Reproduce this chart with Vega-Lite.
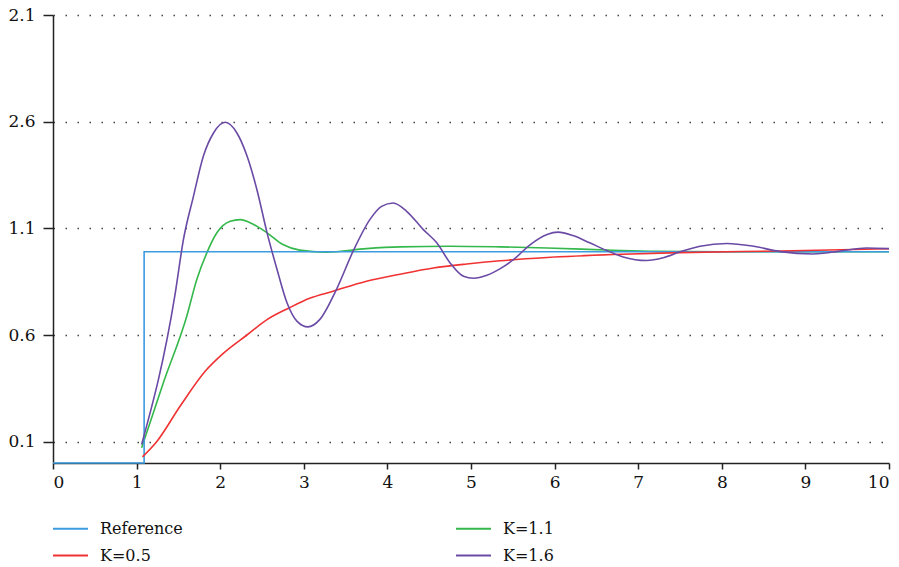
{
  "$schema": "https://vega.github.io/schema/vega-lite/v6.json",
  "autosize": {"type": "none"},
  "padding": {"left": 53, "top": 15, "right": 10, "bottom": 104},
  "width": 836,
  "height": 448,
  "background": "white",
  "config": {
    "view": {"stroke": null},
    "font": "DejaVu Serif",
    "axis": {"labelFont": "DejaVu Serif", "labelFontSize": 17, "labelColor": "#111", "domainColor": "#222", "domainWidth": 1.5, "tickColor": "#222", "tickWidth": 1.5, "title": null}
  },
  "data": {
    "values": [
      {"series": "Reference", "t": 0, "v": 0},
      {"series": "Reference", "t": 1.09, "v": 0},
      {"series": "Reference", "t": 1.09, "v": 0.99},
      {"series": "Reference", "t": 10, "v": 0.99},

      {"series": "K=0.5", "t": 1.07, "v": 0.029},
      {"series": "K=0.5", "t": 1.24, "v": 0.10},
      {"series": "K=0.5", "t": 1.52, "v": 0.266},
      {"series": "K=0.5", "t": 1.82, "v": 0.43},
      {"series": "K=0.5", "t": 2.04, "v": 0.515},
      {"series": "K=0.5", "t": 2.32, "v": 0.60},
      {"series": "K=0.5", "t": 2.56, "v": 0.672},
      {"series": "K=0.5", "t": 2.83, "v": 0.728},
      {"series": "K=0.5", "t": 3.07, "v": 0.772},
      {"series": "K=0.5", "t": 3.35, "v": 0.805},
      {"series": "K=0.5", "t": 3.75, "v": 0.852},
      {"series": "K=0.5", "t": 4.15, "v": 0.885},
      {"series": "K=0.5", "t": 4.55, "v": 0.914},
      {"series": "K=0.5", "t": 4.95, "v": 0.933},
      {"series": "K=0.5", "t": 5.35, "v": 0.948},
      {"series": "K=0.5", "t": 5.91, "v": 0.963},
      {"series": "K=0.5", "t": 6.70, "v": 0.977},
      {"series": "K=0.5", "t": 7.50, "v": 0.986},
      {"series": "K=0.5", "t": 8.70, "v": 0.994},
      {"series": "K=0.5", "t": 10.0, "v": 1.004},

      {"series": "K=1.1", "t": 1.06, "v": 0.071},
      {"series": "K=1.1", "t": 1.32, "v": 0.376},
      {"series": "K=1.1", "t": 1.60, "v": 0.688},
      {"series": "K=1.1", "t": 1.72, "v": 0.86},
      {"series": "K=1.1", "t": 1.84, "v": 0.985},
      {"series": "K=1.1", "t": 1.96, "v": 1.079},
      {"series": "K=1.1", "t": 2.12, "v": 1.133},
      {"series": "K=1.1", "t": 2.24, "v": 1.141},
      {"series": "K=1.1", "t": 2.40, "v": 1.118},
      {"series": "K=1.1", "t": 2.56, "v": 1.079},
      {"series": "K=1.1", "t": 2.75, "v": 1.024},
      {"series": "K=1.1", "t": 2.95, "v": 0.998},
      {"series": "K=1.1", "t": 3.27, "v": 0.988},
      {"series": "K=1.1", "t": 3.75, "v": 1.005},
      {"series": "K=1.1", "t": 4.15, "v": 1.013},
      {"series": "K=1.1", "t": 4.75, "v": 1.016},
      {"series": "K=1.1", "t": 5.35, "v": 1.013},
      {"series": "K=1.1", "t": 5.91, "v": 1.008},
      {"series": "K=1.1", "t": 6.70, "v": 0.997},
      {"series": "K=1.1", "t": 7.20, "v": 0.992},
      {"series": "K=1.1", "t": 8.00, "v": 0.99},
      {"series": "K=1.1", "t": 10.0, "v": 0.99},

      {"series": "K=1.6", "t": 1.06, "v": 0.087},
      {"series": "K=1.6", "t": 1.46, "v": 0.79},
      {"series": "K=1.6", "t": 1.56, "v": 1.047},
      {"series": "K=1.6", "t": 1.68, "v": 1.25},
      {"series": "K=1.6", "t": 1.80, "v": 1.44},
      {"series": "K=1.6", "t": 1.92, "v": 1.547},
      {"series": "K=1.6", "t": 2.06, "v": 1.597},
      {"series": "K=1.6", "t": 2.20, "v": 1.547},
      {"series": "K=1.6", "t": 2.32, "v": 1.44},
      {"series": "K=1.6", "t": 2.44, "v": 1.28},
      {"series": "K=1.6", "t": 2.56, "v": 1.08},
      {"series": "K=1.6", "t": 2.68, "v": 0.907},
      {"series": "K=1.6", "t": 2.80, "v": 0.75},
      {"series": "K=1.6", "t": 2.92, "v": 0.664},
      {"series": "K=1.6", "t": 3.05, "v": 0.638},
      {"series": "K=1.6", "t": 3.19, "v": 0.672},
      {"series": "K=1.6", "t": 3.39, "v": 0.813},
      {"series": "K=1.6", "t": 3.59, "v": 0.993},
      {"series": "K=1.6", "t": 3.79, "v": 1.141},
      {"series": "K=1.6", "t": 3.93, "v": 1.203},
      {"series": "K=1.6", "t": 4.07, "v": 1.219},
      {"series": "K=1.6", "t": 4.23, "v": 1.18},
      {"series": "K=1.6", "t": 4.43, "v": 1.094},
      {"series": "K=1.6", "t": 4.59, "v": 1.032},
      {"series": "K=1.6", "t": 4.75, "v": 0.938},
      {"series": "K=1.6", "t": 4.91, "v": 0.875},
      {"series": "K=1.6", "t": 5.03, "v": 0.866},
      {"series": "K=1.6", "t": 5.19, "v": 0.880},
      {"series": "K=1.6", "t": 5.35, "v": 0.911},
      {"series": "K=1.6", "t": 5.51, "v": 0.954},
      {"series": "K=1.6", "t": 5.71, "v": 1.024},
      {"series": "K=1.6", "t": 5.91, "v": 1.071},
      {"series": "K=1.6", "t": 6.04, "v": 1.082},
      {"series": "K=1.6", "t": 6.22, "v": 1.066},
      {"series": "K=1.6", "t": 6.42, "v": 1.032},
      {"series": "K=1.6", "t": 6.62, "v": 0.997},
      {"series": "K=1.6", "t": 6.82, "v": 0.966},
      {"series": "K=1.6", "t": 7.10, "v": 0.949},
      {"series": "K=1.6", "t": 7.30, "v": 0.962},
      {"series": "K=1.6", "t": 7.50, "v": 0.990},
      {"series": "K=1.6", "t": 7.74, "v": 1.016},
      {"series": "K=1.6", "t": 8.06, "v": 1.029},
      {"series": "K=1.6", "t": 8.38, "v": 1.016},
      {"series": "K=1.6", "t": 8.70, "v": 0.991},
      {"series": "K=1.6", "t": 9.09, "v": 0.980},
      {"series": "K=1.6", "t": 9.41, "v": 0.993},
      {"series": "K=1.6", "t": 9.73, "v": 1.008},
      {"series": "K=1.6", "t": 10.0, "v": 1.005}
    ]
  },
  "encoding": {
    "x": {"field": "t", "type": "quantitative", "scale": {"domain": [0, 10], "nice": false},
      "axis": {"values": [0,1,2,3,4,5,6,7,8,9,10], "format": "d", "grid": false, "tickSize": 6, "labelPadding": 5}},
    "y": {"field": "v", "type": "quantitative", "scale": {"domain": [0, 2.1], "nice": false, "zero": false},
      "axis": {"values": [0.1, 0.6, 1.1, 1.6, 2.1], "labelExpr": "abs(datum.value - 1.6) < 0.01 ? '2.6' : format(datum.value, '.1f')", "grid": true, "gridColor": "#444", "gridDash": [1.5, 10.5], "gridWidth": 1.5, "tickSize": 10, "labelPadding": 8}},
    "color": {"field": "series", "type": "nominal",
      "scale": {"domain": ["Reference", "K=0.5", "K=1.1", "K=1.6"], "range": ["#3d9be0", "#f03232", "#34b84b", "#6a4aa5"]},
      "legend": {"title": null, "orient": "none", "legendX": -1, "legendY": 495, "columns": 2, "columnPadding": 269, "rowPadding": 0, "symbolType": "stroke", "symbolSize": 1225, "symbolStrokeWidth": 2, "labelFont": "DejaVu Serif", "labelFontSize": 16, "labelOffset": 11, "labelColor": "#111"}}
  },
  "layer": [
    {"transform": [{"filter": "datum.series == 'K=1.1'"}], "mark": {"type": "line", "strokeWidth": 1.6, "interpolate": "monotone"}},
    {"transform": [{"filter": "datum.series == 'Reference'"}], "mark": {"type": "line", "strokeWidth": 1.6, "interpolate": "linear"}},
    {"transform": [{"filter": "datum.series == 'K=0.5'"}], "mark": {"type": "line", "strokeWidth": 1.6, "interpolate": "monotone"}},
    {"transform": [{"filter": "datum.series == 'K=1.6'"}], "mark": {"type": "line", "strokeWidth": 1.6, "interpolate": "monotone"}}
  ]
}
